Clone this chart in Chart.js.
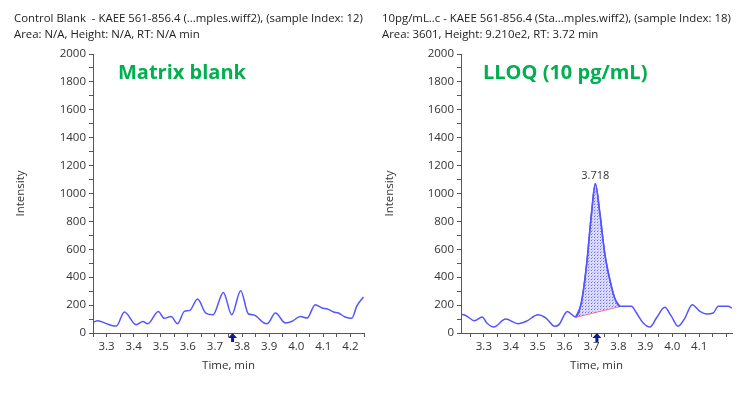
<!DOCTYPE html>
<html>
<head>
<meta charset="utf-8">
<script src="https://cdn.jsdelivr.net/npm/chart.js@4.4.1/dist/chart.umd.min.js"></script>
<style>
  body { margin: 0; background: #fff; }
  #wrap { position: relative; width: 750px; height: 395px; font-family: "Open Sans", sans-serif; color: #222; }
  .panel { position: absolute; top: 0; width: 375px; height: 395px; }
  .head { position: absolute; font-size: 11.4px; line-height: 16px; white-space: nowrap; }
  .tag { position: absolute; font-size: 20px; font-weight: bold; color: #00b050; white-space: nowrap; }
</style>
</head>
<body>
<div id="wrap">
  <div class="panel" style="left:0"><canvas id="blank" width="375" height="395"></canvas></div>
  <div class="panel" style="left:375px"><canvas id="lloq" width="375" height="395"></canvas></div>
  <div class="head" style="left:14px; top:10px">Control Blank&nbsp; - KAEE 561-856.4 (...mples.wiff2), (sample Index: 12)<br>Area: N/A, Height: N/A, RT: N/A min</div>
  <div class="head" style="left:382px; top:10px">10pg/mL..c - KAEE 561-856.4 (Sta...mples.wiff2), (sample Index: 18)<br>Area: 3601, Height: 9.210e2, RT: 3.72 min</div>
  <div class="tag" style="left:118px; top:58px">Matrix blank</div>
  <div class="tag" style="left:483px; top:58px">LLOQ (10 pg/mL)</div>
</div>
<script>
// control blank trace
const blankTime = [3.249, 3.263, 3.294, 3.318, 3.331, 3.361, 3.404, 3.429, 3.447, 3.486, 3.508, 3.533, 3.557,
  3.582, 3.602, 3.631, 3.661, 3.688, 3.726, 3.757, 3.790, 3.818, 3.839, 3.876, 3.888, 3.918, 3.955, 3.980,
  4.010, 4.035, 4.065, 4.090, 4.108, 4.133, 4.151, 4.175, 4.200, 4.218, 4.243];
const blankIntensity = [80, 88, 67, 52, 50, 150, 60, 82, 67, 155, 105, 119, 67,
  155, 162, 243, 143, 131, 291, 131, 303, 138, 129, 72, 67, 143, 72, 84,
  119, 107, 203, 179, 174, 150, 143, 115, 105, 191, 258];

// 10 pg/mL trace
const lloqTime = [3.213, 3.234, 3.265, 3.294, 3.311, 3.337, 3.381, 3.427, 3.458, 3.501, 3.532, 3.563, 3.579,
  3.610, 3.641, 3.662, 3.681, 3.700, 3.714, 3.731, 3.749, 3.768, 3.786, 3.805, 3.848, 3.867, 3.892,
  3.917, 3.941, 3.972, 3.997, 4.022, 4.047, 4.074, 4.103, 4.128, 4.152, 4.171, 4.208, 4.221];
const lloqIntensity = [136, 124, 88, 115, 72, 43, 100, 67, 84, 131, 105, 48, 60,
  155, 115, 215, 477, 859, 1069, 859, 573, 382, 251, 191, 191, 143, 72,
  43, 107, 184, 119, 48, 107, 203, 155, 136, 143, 191, 191, 179];

const peakStart = 3.641;
const peakEnd = 3.805;
const peakLabel = '3.718';
const blankArrowAt = 3.76;
const lloqArrowAt = 3.72;

const lineBlue = '#5555ff';
const axisColor = '#555';
const textColor = '#333';

function toPoints(times, values) {
  return times.map((t, i) => ({ x: t, y: values[i] }));
}

// dotted fill like the integration shading
function dotPattern() {
  const c = document.createElement('canvas');
  c.width = 3; c.height = 3;
  const g = c.getContext('2d');
  g.fillStyle = '#dcdcff';
  g.fillRect(0, 0, 3, 3);
  g.fillStyle = '#6a6aff';
  g.fillRect(0, 0, 1, 1);
  g.fillStyle = '#aaaaff';
  g.fillRect(1, 2, 1, 1);
  return g.createPattern(c, 'repeat');
}

// small up arrow under the x axis + optional peak label
const markers = {
  id: 'markers',
  afterDatasetsDraw(chart, args, opts) {
    const ctx = chart.ctx;
    const xs = chart.scales.x;
    const ys = chart.scales.y;
    const ax = xs.getPixelForValue(opts.arrowAt);
    const ay = ys.bottom;
    ctx.save();
    ctx.fillStyle = '#0a1aa0';
    ctx.beginPath();
    ctx.moveTo(ax, ay);
    ctx.lineTo(ax - 4.5, ay + 5);
    ctx.lineTo(ax - 1.5, ay + 5);
    ctx.lineTo(ax - 1.5, ay + 9);
    ctx.lineTo(ax + 1.5, ay + 9);
    ctx.lineTo(ax + 1.5, ay + 5);
    ctx.lineTo(ax + 4.5, ay + 5);
    ctx.closePath();
    ctx.fill();
    if (opts.label) {
      const top = opts.labelPoint;
      ctx.fillStyle = textColor;
      ctx.font = '11px "Open Sans", sans-serif';
      ctx.textAlign = 'center';
      ctx.textBaseline = 'bottom';
      ctx.fillText(opts.label, xs.getPixelForValue(top.x), ys.getPixelForValue(top.y) - 3);
    }
    ctx.restore();
  }
};

function makeChart(id, datasets, xMin, xMax, lastLabel, padLeft, yWidth, padRight, arrowOpts) {
  return new Chart(document.getElementById(id), {
    type: 'line',
    data: { datasets },
    options: {
      responsive: false,
      animation: false,
      layout: { padding: { left: padLeft, top: 54, right: padRight, bottom: 22 } },
      plugins: { legend: { display: false }, tooltip: { enabled: false }, markers: arrowOpts },
      elements: { point: { radius: 0 } },
      scales: {
        x: {
          type: 'linear',
          min: xMin,
          max: xMax,
          afterFit: s => { s.height = 40; },
          border: { color: axisColor },
          grid: { drawOnChartArea: false, color: axisColor, tickLength: 4 },
          ticks: {
            stepSize: 0.05,
            includeBounds: false,
            autoSkip: false,
            maxRotation: 0,
            padding: 3,
            color: textColor,
            font: { size: 11.5, family: 'Open Sans' },
            callback: v => {
              const r = Math.round(v * 20);
              return r % 2 === 0 && r / 20 <= lastLabel + 1e-9 ? (r / 20).toFixed(1) : '';
            }
          },
          title: { display: true, text: 'Time, min', color: textColor, font: { size: 11.5, family: 'Open Sans' }, padding: { top: 4, bottom: 0 } }
        },
        y: {
          min: 0,
          max: 2000,
          afterFit: s => { s.width = yWidth; },
          border: { color: axisColor },
          grid: { drawOnChartArea: false, color: axisColor, tickLength: 4 },
          ticks: {
            stepSize: 100,
            autoSkip: false,
            padding: 3,
            color: textColor,
            font: { size: 11.5, family: 'Open Sans' },
            callback: v => (v % 200 === 0 ? String(v) : '')
          },
          title: { display: true, text: 'Intensity', color: textColor, font: { size: 11.5, family: 'Open Sans' }, padding: { top: 4, bottom: 4 } }
        }
      }
    },
    plugins: [markers]
  });
}

const blankPts = toPoints(blankTime, blankIntensity);
makeChart('blank', [
  { data: blankPts, borderColor: lineBlue, borderWidth: 1.5, tension: 0.4, cubicInterpolationMode: 'monotone', fill: false }
], 3.245, 4.245, 4.2, 10, 83, 11, { arrowAt: blankArrowAt });

const lloqPts = toPoints(lloqTime, lloqIntensity);
const peakPts = lloqPts.filter(p => p.x >= peakStart - 1e-9 && p.x <= peakEnd + 1e-9);
const basePts = [peakPts[0], peakPts[peakPts.length - 1]];
const apex = peakPts.reduce((a, b) => (b.y > a.y ? b : a));
makeChart('lloq', [
  { data: lloqPts, borderColor: lineBlue, borderWidth: 1.5, tension: 0.4, cubicInterpolationMode: 'monotone', fill: false },
  { data: peakPts, borderColor: lineBlue, borderWidth: 1.5, tension: 0.4, cubicInterpolationMode: 'monotone', fill: { target: 2 }, backgroundColor: dotPattern() },
  { data: basePts, borderColor: '#ff5a5a', borderWidth: 1.5, tension: 0, fill: false }
], 3.215, 4.222, 4.1, 4, 82, 18, { arrowAt: lloqArrowAt, label: peakLabel, labelPoint: apex });
</script>
</body>
</html>
